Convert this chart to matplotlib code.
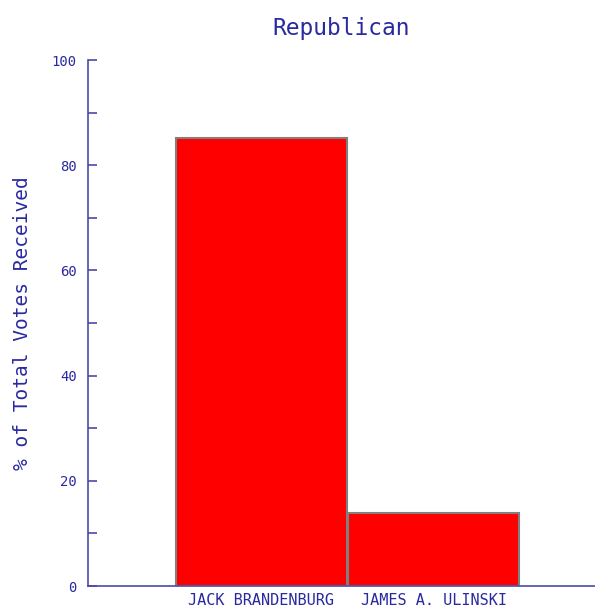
import numpy as np
import matplotlib
matplotlib.use('Agg')
import matplotlib.pyplot as plt

candidates = ['JACK BRANDENBURG', 'JAMES A. ULINSKI']
pct_votes = [85.1, 13.9]
y_ticks = [0, 20, 40, 60, 80, 100]

navy = '#2a2aa0'
axis_col = '#4a4aa8'

plt.rcParams['font.family'] = 'DejaVu Sans Mono'

fig = plt.figure(figsize=(5.95, 6.08), dpi=100)
ax = fig.add_axes([88/595, 1 - 586/608, 1 - 88/595, (586 - 60)/608])

x = np.arange(len(candidates))
ax.bar(x, pct_votes, width=0.99, color='#ff0000', edgecolor='#808080', linewidth=1.5)

ax.set_xlim(-1.005, 1.935)
ax.set_ylim(0, 100)
ax.set_xticks(x)
ax.set_xticklabels(candidates, fontsize=11, color=navy)
ax.set_yticks(y_ticks)
ax.set_yticks(np.arange(10, 100, 20), minor=True)
ax.set_yticklabels([str(t) for t in y_ticks], fontsize=10, color=navy)

ax.tick_params(axis='x', length=0, pad=5)
ax.tick_params(axis='y', which='both', direction='in', length=6.5, width=1.2,
               color=axis_col, pad=8)

for s in ['top', 'right']:
    ax.spines[s].set_visible(False)
for s in ['left', 'bottom']:
    ax.spines[s].set_color(axis_col)
    ax.spines[s].set_linewidth(1.2)

ax.set_ylabel('% of Total Votes Received', fontsize=14, color=navy, labelpad=14)
ax.set_title('Republican', fontsize=16.5, color=navy, pad=18)

fig.savefig('out.png', dpi=100)
